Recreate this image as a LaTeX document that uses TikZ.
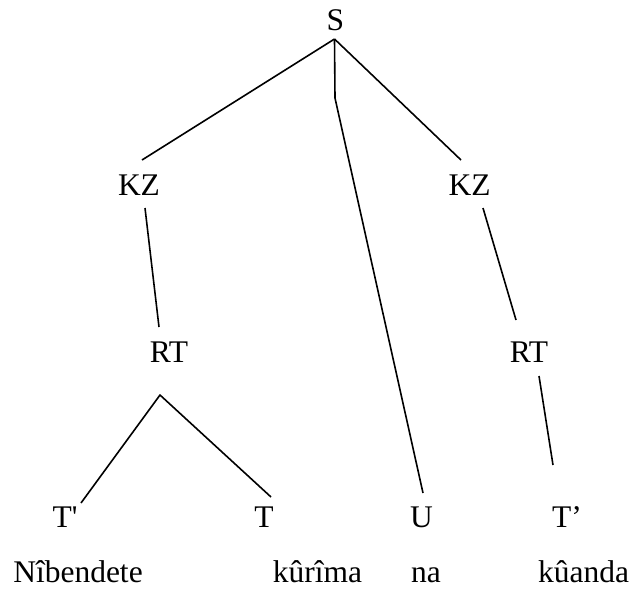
\documentclass[tikz,border=0pt]{standalone}
\usepackage{fontspec}
\setmainfont{Liberation Serif}[Ligatures=TeXOff]
\begin{document}
\begin{tikzpicture}[x=1pt,y=-1pt,
  lbl/.style={anchor=base,inner sep=0pt,font=\fontsize{31.5}{36}\selectfont},
  edge/.style={line width=1.6pt,line join=round}]
\useasboundingbox (0,0) rectangle (632,590);
% labels
\node[lbl] (S) at (335.5,30) {S};
\node[lbl] (KZa) at (139,195) {KZ};
\node[lbl] (KZb) at (469.5,195) {KZ};
\node[lbl] (RTa) at (169,362) {RT};
\node[lbl] (RTb) at (529,362) {RT};
\node[lbl] (Ta) at (65,527) {T'};
\node[lbl] (Tb) at (264,527) {T};
\node[lbl] (U) at (421.5,527) {U};
\node[lbl] (Tc) at (567,527) {T’};
\node[lbl] (w1) at (78,582) {Nîbendete};
\node[lbl] (w2) at (317.5,582) {kûrîma};
\node[lbl] (w3) at (426,582) {na};
\node[lbl] (w4) at (583.5,582) {kûanda};
% connector points
\coordinate (Sv) at ([xshift=-1pt,yshift=-9pt]S.base);
\coordinate (Sm) at ([xshift=-0.5pt,yshift=-68pt]S.base);
\coordinate (RTav) at ([xshift=-9pt,yshift=-33pt]RTa.base);
% connectors
\draw[edge] (Sv) -- ([xshift=3pt,yshift=35pt]KZa.base);
\draw[edge] (Sv) -- ([xshift=-8.5pt,yshift=35pt]KZb.base);
\draw[edge] (Sv) -- (Sm) -- ([xshift=1.5pt,yshift=34pt]U.base);
\draw[edge] ([xshift=6pt,yshift=-13pt]KZa.base) -- ([xshift=-10pt,yshift=35pt]RTa.base);
\draw[edge] ([xshift=16pt,yshift=24pt]Ta.base) -- (RTav) -- ([xshift=7pt,yshift=30pt]Tb.base);
\draw[edge] ([xshift=13.5pt,yshift=-13pt]KZb.base) -- ([xshift=-13pt,yshift=42pt]RTb.base);
\draw[edge] ([xshift=10pt,yshift=-14pt]RTb.base) -- ([xshift=-14pt,yshift=62pt]Tc.base);
\end{tikzpicture}
\end{document}
